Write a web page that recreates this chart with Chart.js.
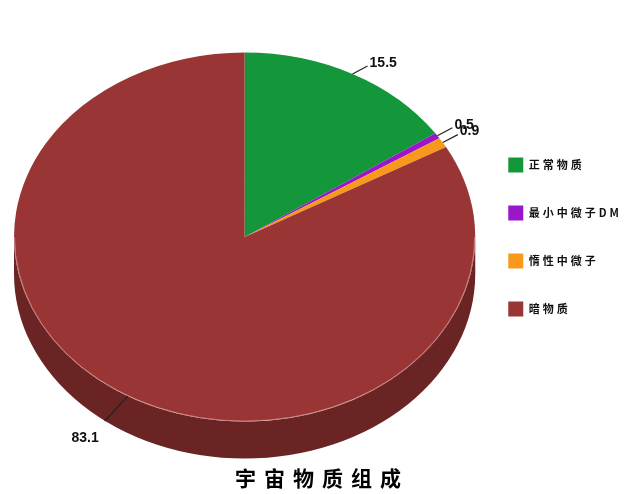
<!DOCTYPE html>
<html>
<head>
<meta charset="utf-8">
<script src="https://cdn.jsdelivr.net/npm/chart.js@4"></script>
<style>
  html, body { margin: 0; padding: 0; background: #fff; }
  #wrap { width: 640px; height: 494px; }
</style>
</head>
<body>
<div id="wrap"><canvas id="chart1" width="640" height="494"></canvas></div>
<script>
let labels = ['正常物质', '最小中微子DM', '惰性中微子', '暗物质'];
let values = [15.5, 0.5, 0.9, 83.1];
let titleText = '宇宙物质组成';

let topColors = ['#14973b', '#9a17c9', '#f8991c', '#993535'];
let sideColors = ['#0c5e25', '#5e0e7c', '#a76510', '#6b2424'];

let squash = 0.8;   // vertical flattening of the pie
let depth = 37;     // thickness of the pie in px

// draws the dark side band, squashes the pie, adds value labels and title
let pie3d = {
    id: 'pie3d',
    beforeLayout(chart) {
        chart.ctx.letterSpacing = '3px';
    },
    beforeDraw(chart) {
        chart.ctx.letterSpacing = '3px';
    },
    beforeDatasetsDraw(chart) {
        let ctx = chart.ctx;
        let arcs = chart.getDatasetMeta(0).data;
        let cx = arcs[0].x, cy = arcs[0].y;
        ctx.save();
        ctx.translate(cx, cy);
        ctx.scale(1, squash);
        ctx.translate(-cx, -cy);
        let d = depth / squash;
        arcs.forEach((arc, i) => {
            let r = arc.outerRadius;
            [[0, Math.PI], [2 * Math.PI, 3 * Math.PI]].forEach(([lo, hi]) => {
                let a0 = Math.max(arc.startAngle, lo);
                let a1 = Math.min(arc.endAngle, hi);
                if (a1 <= a0) return;
                ctx.beginPath();
                ctx.arc(cx, cy, r, a0, a1);
                ctx.lineTo(cx + r * Math.cos(a1), cy + d + r * Math.sin(a1));
                ctx.arc(cx, cy + d, r, a1, a0, true);
                ctx.closePath();
                ctx.fillStyle = sideColors[i];
                ctx.fill();
            });
        });
    },
    afterDatasetsDraw(chart) {
        let ctx = chart.ctx;
        let arcs = chart.getDatasetMeta(0).data;
        let cx = arcs[0].x, cy = arcs[0].y;
        let r = arcs[0].outerRadius;
        // light rim between top and side
        ctx.beginPath();
        ctx.arc(cx, cy, r - 0.5, 0, Math.PI);
        ctx.strokeStyle = 'rgba(255,205,205,0.55)';
        ctx.lineWidth = 1;
        ctx.stroke();
        ctx.restore();

        ctx.save();
        ctx.letterSpacing = '0px';
        ctx.font = 'bold 14px "Liberation Sans", Arial, sans-serif';
        ctx.fillStyle = '#111';
        ctx.strokeStyle = '#222';
        ctx.lineWidth = 1.2;
        arcs.forEach((arc, i) => {
            let mid = (arc.startAngle + arc.endAngle) / 2;
            let px = cx + arc.outerRadius * Math.cos(mid);
            let py = cy + arc.outerRadius * squash * Math.sin(mid);
            let left = Math.cos(mid) < 0;
            let ang = left ? (133 * Math.PI / 180) : (-28 * Math.PI / 180);
            let len = left ? 34 : 17;
            let ex = px + len * Math.cos(ang);
            let ey = py + len * Math.sin(ang);
            ctx.beginPath();
            ctx.moveTo(px, py);
            ctx.lineTo(ex, ey);
            ctx.stroke();
            if (left) {
                ctx.textAlign = 'right';
                ctx.textBaseline = 'top';
                ctx.fillText(values[i].toFixed(1), ex - 6, ey + 10);
            } else {
                ctx.textAlign = 'left';
                ctx.textBaseline = 'middle';
                ctx.fillText(values[i].toFixed(1), ex + 2, ey - 3);
            }
        });
        ctx.restore();
    },
    afterDraw(chart) {
        let ctx = chart.ctx;
        ctx.save();
        ctx.letterSpacing = '8px';
        ctx.font = 'bold 21px "Noto Sans CJK SC", sans-serif';
        ctx.fillStyle = '#000';
        ctx.textAlign = 'center';
        ctx.textBaseline = 'middle';
        ctx.fillText(titleText, 322, 478);
        ctx.restore();
    }
};

let ctx1 = document.getElementById('chart1').getContext('2d');

new Chart(ctx1, {
    type: 'pie',
    data: {
        labels: labels,
        datasets: [{
            data: values,
            backgroundColor: topColors,
            borderWidth: 0
        }]
    },
    options: {
        responsive: false,
        animation: false,
        events: [],
        layout: {
            padding: { top: 5, bottom: 25, left: 14, right: 8 }
        },
        plugins: {
            legend: {
                position: 'right',
                align: 'center',
                labels: {
                    boxWidth: 15,
                    boxHeight: 15,
                    padding: 33,
                    color: '#111',
                    font: { family: '"Noto Sans CJK SC", sans-serif', size: 11, weight: 'bold' }
                }
            },
            tooltip: { enabled: false }
        }
    },
    plugins: [pie3d]
});
</script>
</body>
</html>
